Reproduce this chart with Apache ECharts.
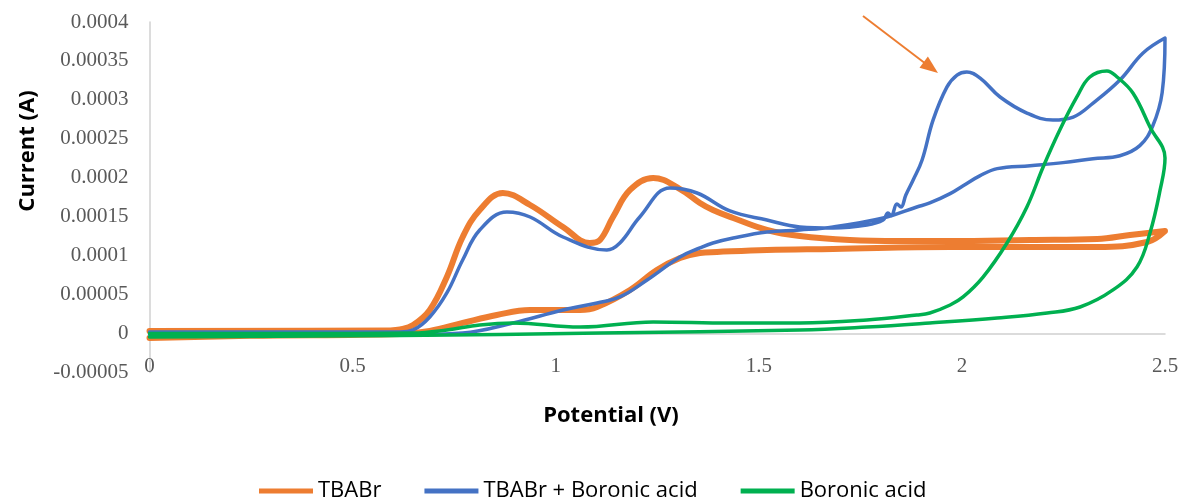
<!DOCTYPE html>
<html>
<head>
<meta charset="utf-8">
<script src="https://cdn.jsdelivr.net/npm/echarts@6/dist/echarts.min.js"></script>
<style>
html,body{margin:0;padding:0;background:#fff;}
#chart{width:1183px;height:499px;}
</style>
</head>
<body>
<div id="chart"></div>
<script>
// ---- data (Potential V, Current A) ----
const seriesNames = ['TBABr', 'TBABr + Boronic acid', 'Boronic acid'];
const xTicks = [0, 0.5, 1, 1.5, 2, 2.5];
const yTicks = [-0.00005, 0, 0.00005, 0.0001, 0.00015, 0.0002, 0.00025, 0.0003, 0.00035, 0.0004];

const tbabr = [
  [0, 0.0000032], [0.592, 0.0000039], [0.617, 0.0000051], [0.649, 0.0000109], [0.69, 0.0000302],
  [0.732, 0.0000726], [0.771, 0.0001239], [0.813, 0.0001586], [0.87, 0.0001804], [0.937, 0.000165],
  [1.018, 0.0001367], [1.084, 0.0001162], [1.109, 0.00012], [1.141, 0.0001496], [1.183, 0.0001843],
  [1.24, 0.0001997], [1.306, 0.0001855], [1.355, 0.0001676], [1.387, 0.0001586], [1.437, 0.0001483],
  [1.52, 0.0001329], [1.601, 0.0001252], [1.724, 0.0001201], [1.847, 0.0001188], [1.971, 0.0001188],
  [2.168, 0.0001201], [2.333, 0.0001213], [2.414, 0.0001265], [2.5, 0.0001316],
  [2.456, 0.0001175], [2.333, 0.0001111], [2.168, 0.0001111], [1.971, 0.0001111], [1.683, 0.0001085],
  [1.52, 0.0001072], [1.397, 0.0001046], [1.355, 0.0001034], [1.306, 0.0000969], [1.249, 0.0000815],
  [1.183, 0.0000559], [1.102, 0.000034], [1.06, 0.0000302], [0.937, 0.0000302], [0.855, 0.0000238],
  [0.771, 0.0000135], [0.69, 0.0000032], [0.617, -0.0000006], [0.247, -0.000003], [0, -0.0000058]
];

const tbabrBoronic = [
  [0, 0.0000019], [0.617, 0.0000019], [0.649, 0.0000045], [0.69, 0.0000212], [0.732, 0.000052],
  [0.771, 0.0000944], [0.813, 0.0001329], [0.88, 0.000156], [0.937, 0.0001496], [1.018, 0.0001239],
  [1.126, 0.0001072], [1.158, 0.0001162], [1.207, 0.0001496], [1.281, 0.0001868], [1.348, 0.0001804],
  [1.429, 0.0001573], [1.52, 0.0001457], [1.601, 0.0001368], [1.683, 0.0001355], [1.766, 0.0001393],
  [1.806, 0.0001457], [1.818, 0.0001547], [1.826, 0.0001509], [1.84, 0.0001663], [1.85, 0.0001624],
  [1.862, 0.0001778], [1.88, 0.0001971], [1.902, 0.0002227], [1.929, 0.000274], [1.963, 0.0003164],
  [1.988, 0.0003319], [2.012, 0.0003358], [2.045, 0.000328], [2.094, 0.0003037], [2.16, 0.0002831],
  [2.224, 0.0002741], [2.274, 0.0002779], [2.323, 0.0002959], [2.389, 0.0003255], [2.446, 0.0003602],
  [2.5, 0.0003794],
  [2.493, 0.0003093], [2.47, 0.0002668], [2.438, 0.0002412], [2.389, 0.0002283], [2.323, 0.0002245],
  [2.249, 0.0002194], [2.168, 0.0002155], [2.087, 0.0002117], [2.045, 0.0002027], [2.003, 0.0001898],
  [1.971, 0.0001796], [1.921, 0.0001676], [1.889, 0.0001624], [1.806, 0.0001483], [1.683, 0.0001368],
  [1.601, 0.0001329], [1.52, 0.0001303], [1.437, 0.0001226], [1.387, 0.0001162], [1.355, 0.0001098],
  [1.306, 0.0000982], [1.225, 0.0000687], [1.158, 0.0000469], [1.102, 0.0000392], [1.018, 0.0000302],
  [0.895, 0.0000135], [0.771, 0.0000006], [0.617, -0.0000019], [0, -0.0000019]
];

const boronic = [
  [0, -0.0000045], [0.617, -0.0000026], [1.109, 0.0000006], [1.601, 0.0000045], [1.766, 0.0000083],
  [1.921, 0.0000135], [2.087, 0.0000199], [2.21, 0.0000263], [2.291, 0.000034], [2.372, 0.0000559],
  [2.431, 0.0000854], [2.463, 0.000129], [2.488, 0.0001843], [2.5, 0.0002254],
  [2.463, 0.0002651], [2.421, 0.0003088], [2.382, 0.0003294], [2.357, 0.0003371], [2.315, 0.0003294],
  [2.283, 0.0003037], [2.241, 0.0002613], [2.2, 0.0002138], [2.16, 0.0001624], [2.111, 0.0001162],
  [2.052, 0.0000724], [2.003, 0.0000469], [1.971, 0.0000366], [1.921, 0.0000263], [1.889, 0.0000237],
  [1.766, 0.0000173], [1.601, 0.0000135], [1.429, 0.0000135], [1.24, 0.0000148], [1.06, 0.0000083],
  [0.895, 0.0000135], [0.813, 0.0000109], [0.732, 0.0000045], [0.649, 0.0000006], [0.37, 0], [0, 0]
];

const colors = ['#ED7D31', '#4472C4', '#00B050'];
const widths = [6, 3.5, 3.5];

const chart = echarts.init(document.getElementById('chart'), null, {renderer: 'canvas'});
const tickFont = {fontFamily: 'Liberation Serif', fontSize: 21, color: '#595959'};
const fmt = v => String(parseFloat(Number(v).toPrecision(6)));

chart.setOption({
  animation: false,
  backgroundColor: '#ffffff',
  grid: {left: 149.5, right: 18, top: 22, bottom: 126.6, containLabel: false},
  xAxis: [
    {type: 'value', min: xTicks[0], max: xTicks[xTicks.length - 1], interval: 0.5, position: 'bottom',
     axisLine: {show: true, onZero: true, lineStyle: {color: '#D0D0D0', width: 1.5}},
     axisTick: {show: false}, axisLabel: {show: false}, splitLine: {show: false}},
    {type: 'value', min: xTicks[0], max: xTicks[xTicks.length - 1], interval: 0.5, position: 'bottom',
     axisLine: {show: false, onZero: false}, axisTick: {show: false}, splitLine: {show: false},
     axisLabel: Object.assign({margin: -16, formatter: fmt}, tickFont)}
  ],
  yAxis: {
    type: 'value', min: yTicks[0], max: yTicks[yTicks.length - 1], interval: 0.00005,
    axisLine: {show: true, onZero: false, lineStyle: {color: '#D0D0D0', width: 1.5}},
    axisTick: {show: false}, splitLine: {show: false},
    axisLabel: Object.assign({margin: 21, formatter: fmt, padding: [8, 0, 0, 0]}, tickFont)
  },
  legend: {
    left: 254, top: 475, itemWidth: 54, itemHeight: 5, itemGap: 43, icon: 'rect',
    textStyle: {fontFamily: 'Open Sans', fontSize: 22, color: '#000'},
    data: seriesNames
  },
  graphic: [
    {type: 'text', x: 28, y: 151, rotation: Math.PI / 2,
     style: {text: 'Current (A)', fontFamily: 'Open Sans', fontWeight: 'bold', fontSize: 22, fill: '#000',
      textAlign: 'center', textVerticalAlign: 'middle'}},
    {type: 'text', x: 611, y: 416,
     style: {text: 'Potential (V)', fontFamily: 'Open Sans', fontWeight: 'bold', fontSize: 22, fill: '#000',
      textAlign: 'center', textVerticalAlign: 'middle'}},
    {type: 'line', shape: {x1: 863, y1: 16, x2: 926, y2: 64}, style: {stroke: '#ED7D31', lineWidth: 2}},
    {type: 'polygon', shape: {points: [[938, 73], [919.5, 67.7], [927.9, 56.5]]}, style: {fill: '#ED7D31'}}
  ],
  series: [tbabr, tbabrBoronic, boronic].map((d, i) => ({
    name: seriesNames[i], type: 'line', data: d, xAxisIndex: 0, yAxisIndex: 0,
    showSymbol: false, symbol: 'none', smooth: 0.4, clip: true,
    lineStyle: {color: colors[i], width: widths[i], join: 'round', cap: 'round'}, itemStyle: {color: colors[i]}
  }))
});
</script>
</body>
</html>
